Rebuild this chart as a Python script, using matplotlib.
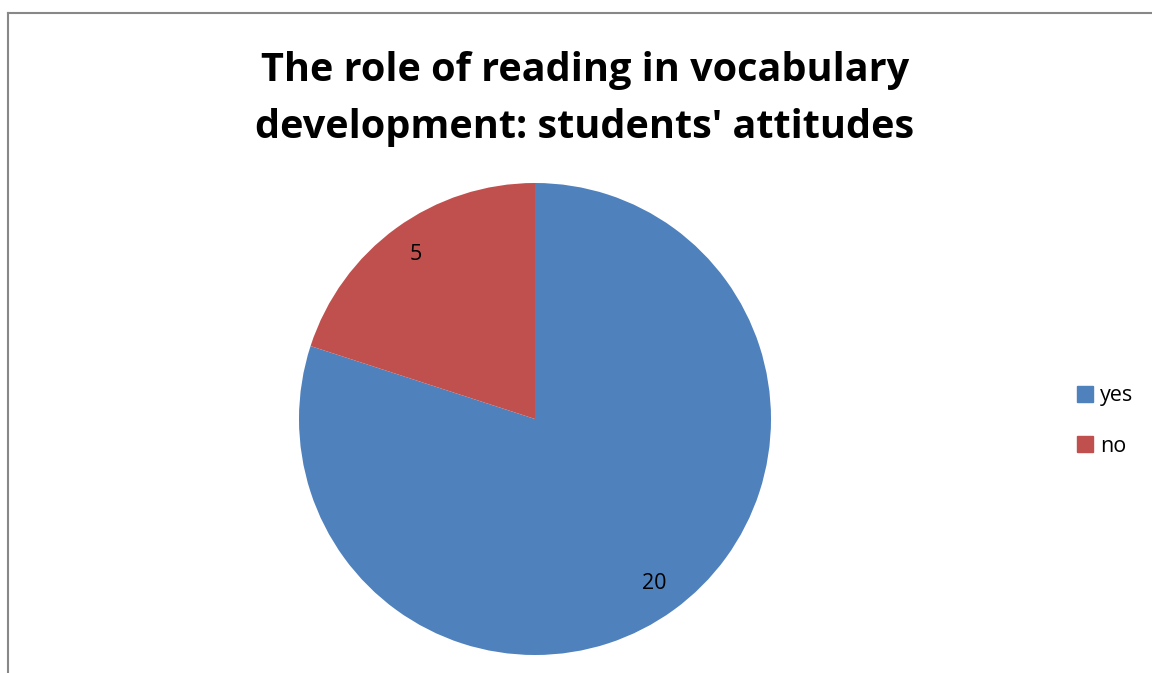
import matplotlib.pyplot as plt
from matplotlib.lines import Line2D

labels = ['yes', 'no']
values = [20, 5]
colors = ['#4F81BD', '#C0504D']
title = "The role of reading in vocabulary\ndevelopment: students' attitudes"

plt.rcParams['font.family'] = ['Open Sans', 'DejaVu Sans']

W, H = 1152, 673
fig = plt.figure(figsize=(W / 100, H / 100), dpi=100)

# pie area: center (535, 419), radius 236 px
cx, cy, r = 535, 419, 236
ax = fig.add_axes([(cx - r) / W, (H - cy - r) / H, 2 * r / W, 2 * r / H])
wedges, texts = ax.pie(values, colors=colors, startangle=90, counterclock=False,
                       labels=[str(v) for v in values], labeldistance=0.86,
                       radius=1.0, wedgeprops=dict(linewidth=0))
for t in texts:
    t.set_fontsize(15.5)
    t.set_ha('center')
    t.set_va('center')
ax.set_xlim(-1, 1)
ax.set_ylim(-1, 1)
ax.set_aspect('equal')
ax.axis('off')

fig.text(585 / W, 1 - 99 / H, title, ha='center', va='center',
         fontsize=28.5, fontweight='bold', linespacing=1.58)

handles = [Line2D([], [], marker='s', linestyle='', markersize=11,
                  markerfacecolor=c, markeredgecolor=c) for c in colors]
fig.legend(handles, labels, loc='center left', bbox_to_anchor=(1053 / W, 1 - 421 / H),
           frameon=False, fontsize=15.5, handletextpad=0.1, labelspacing=1.35,
           handlelength=1.2)

# outer chart border (left and top visible)
fig.add_artist(Line2D([7.5 / W, 7.5 / W], [0, 1 - 13 / H], color='#888888', lw=1.5))
fig.add_artist(Line2D([7.5 / W, 1], [1 - 13 / H, 1 - 13 / H], color='#888888', lw=1.5))

fig.savefig('out.png', dpi=100)
